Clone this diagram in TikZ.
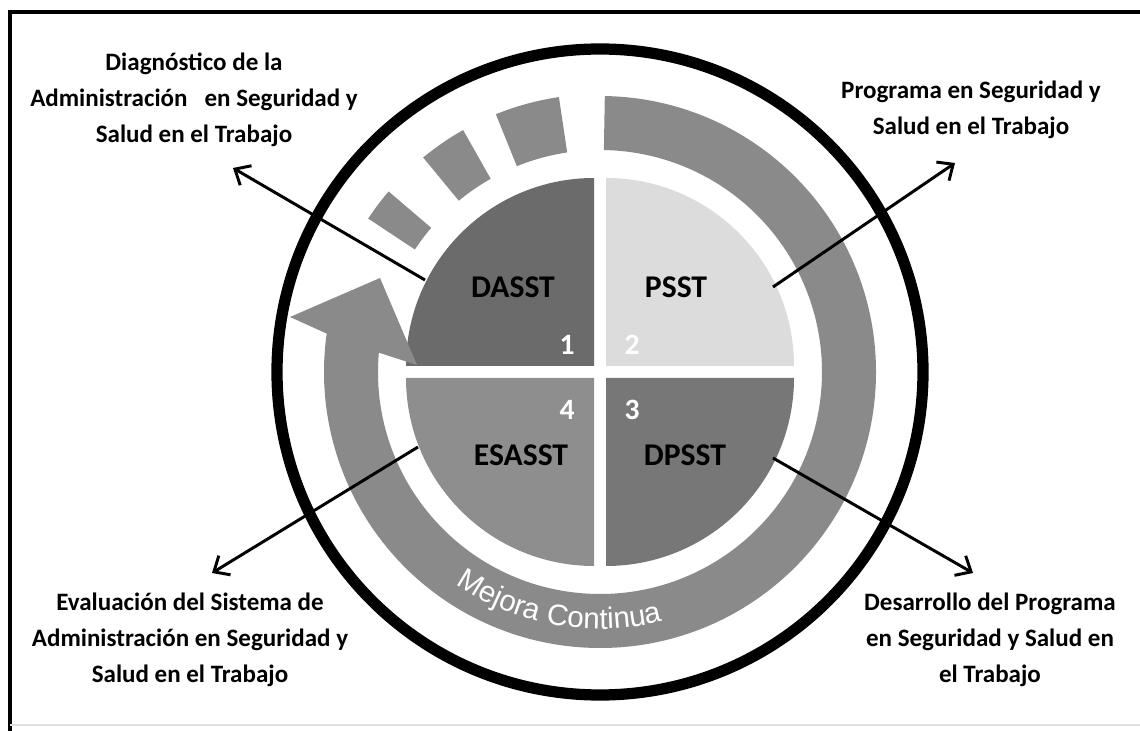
\documentclass[tikz,border=0pt]{standalone}
\usepackage{fontspec}
\setmainfont{Carlito}
\newfontfamily\arialfont{Liberation Sans}
\usetikzlibrary{calc, arrows.meta, decorations.text}
\definecolor{quadA}{HTML}{6B6B6B}
\definecolor{quadB}{HTML}{DCDCDC}
\definecolor{quadC}{HTML}{777777}
\definecolor{quadD}{HTML}{8E8E8E}
\definecolor{ringgray}{HTML}{8A8A8A}
\newcommand{\desctext}{\fontsize{17.8}{25.6}\selectfont\bfseries}
\newcommand{\mcfont}{\arialfont\fontsize{21}{21}\selectfont}
\tikzset{
  desc/.style={align=center, font=\desctext},
  quadlabel/.style={font=\fontsize{22.5}{23}\selectfont\bfseries},
  quadnum/.style={font=\fontsize{21}{21}\selectfont\bfseries, text=white},
  link/.style={line width=2.1pt, -{Straight Barb[length=9pt,width=16pt]}},
}
\begin{document}
\begin{tikzpicture}[x=0.025cm, y=0.025cm]
  \useasboundingbox (0,0) rectangle (1140,731);
  \coordinate (C) at (600,359);

  % frame
  \draw[line width=2.2pt] (10,0) -- (10,719) -- (1140,719);
  \draw[black!12, line width=0.8pt] (10,6) -- (1140,6);

  % outer circle
  \draw[line width=8pt] (C) circle[radius=323];

  % quadrants
  \fill[quadA] ($(C)+(-6,6)$) -- ++(-188,0) arc[start angle=180, end angle=90, radius=188] -- cycle;
  \fill[quadB] ($(C)+(6,6)$) -- ++(0,188) arc[start angle=90, end angle=0, radius=188] -- cycle;
  \fill[quadC] ($(C)+(6,-6)$) -- ++(188,0) arc[start angle=0, end angle=-90, radius=188] -- cycle;
  \fill[quadD] ($(C)+(-6,-6)$) -- ++(0,-188) arc[start angle=270, end angle=180, radius=188] -- cycle;

  % ring with arrow head
  \fill[ringgray] ($(C)+(89:276)$) arc[start angle=89, end angle=-188, radius=276]
    -- (290,414) -- (380,453) -- (417,366)
    -- ($(C)+(-185:222)$) arc[start angle=-185, end angle=89, radius=222] -- cycle;

  % dashes before the arrow
  \foreach \a/\b in {98.5/112, 119.5/129.5, 139.5/146.5}
    \fill[ringgray] ($(C)+(\a:222)$) arc[start angle=\a, end angle=\b, radius=222]
      -- ($(C)+(\b:278)$) arc[start angle=\b, end angle=\a, radius=278] -- cycle;

  % Mejora Continua
  \path[decorate, decoration={text along path, text align=center,
      text={|\mcfont\color{white}|Mejora Continua}}]
    ($(C)+(-130:257)$) arc[start angle=-130, end angle=-70, radius=257];

  % quadrant labels
  \node[quadlabel] (dasst) at (513,444) {DASST};
  \node[quadlabel] (psst) at (676,444) {PSST};
  \node[quadlabel] (esasst) at (521,276) {ESASST};
  \node[quadlabel] (dpsst) at (685,276) {DPSST};
  \node[quadnum] (n1) at (567,386) {1};
  \node[quadnum] (n2) at (632,386) {2};
  \node[quadnum] (n4) at (567,321) {4};
  \node[quadnum] (n3) at (632,321) {3};

  % descriptions
  \node[desc] (diag) at (194,631) {Diagnóstico\ de la\\Administración\ \ \ en Seguridad\ y\\Salud\ en el Trabajo};
  \node[desc] (prog) at (971,621) {Programa\ en Seguridad\ y\\Salud\ en el Trabajo};
  \node[desc] (desa) at (990,91) {Desarrollo\ del Programa\\en Seguridad\ y Salud\ en\\el Trabajo};
  \node[desc] (eval) at (190,91) {Evaluación\ del Sistema de\\Administración\ en Seguridad y\\Salud\ en el Trabajo};

  % connectors
  \coordinate (dasstEdge) at (425,451);
  \coordinate (psstEdge) at (773,444);
  \coordinate (dpsstEdge) at (773,273);
  \coordinate (esasstEdge) at (418,284);
  \coordinate (diagTip) at (233,563);
  \coordinate (progTip) at (955,568);
  \coordinate (desaTip) at (973,158);
  \coordinate (evalTip) at (212,158);
  \draw[link] (dasstEdge) -- (diagTip);
  \draw[link] (psstEdge) -- (progTip);
  \draw[link] (dpsstEdge) -- (desaTip);
  \draw[link] (esasstEdge) -- (evalTip);
\end{tikzpicture}
\end{document}
